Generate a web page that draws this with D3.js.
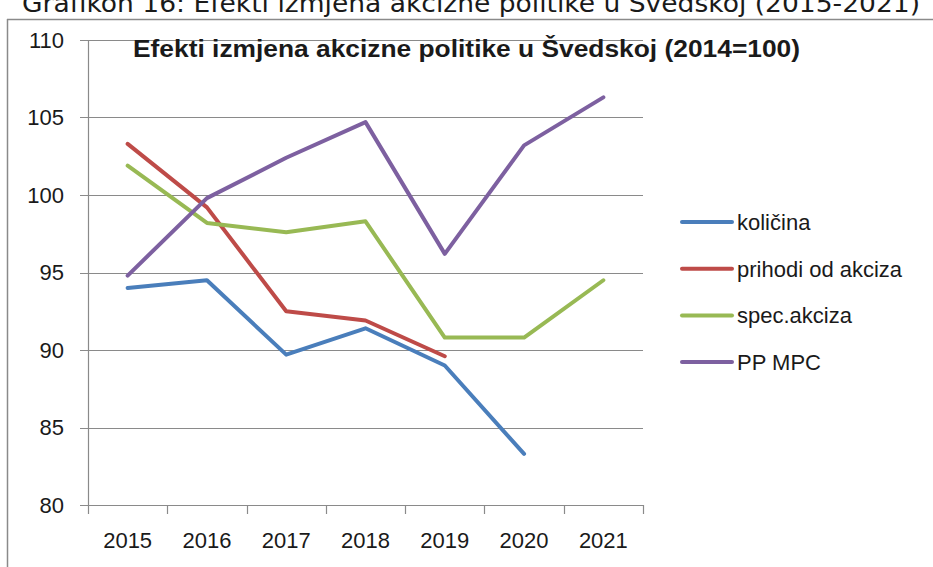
<!DOCTYPE html>
<html lang="hr">
    <head>
        <meta charset="UTF-8" />
        <title>Efekti izmjena akcizne politike u Švedskoj</title>
        <style>
            body {
                margin: 0;
                background: #fff;
            }
            text {
                font-family: 'Liberation Sans', Arial, sans-serif;
                fill: #1a1a1a;
            }
            .grid line {
                stroke: #8a8a8a;
                stroke-width: 1.2px;
            }
            .series {
                fill: none;
                stroke-width: 4px;
                stroke-linejoin: round;
                stroke-linecap: round;
            }
        </style>
    </head>
    <body>
        <svg width="933" height="567"></svg>
        <script src="https://d3js.org/d3.v7.min.js"></script>
        <script>
            const years = ['2015', '2016', '2017', '2018', '2019', '2020', '2021'];
            const yTicks = [80, 85, 90, 95, 100, 105, 110];

            const kolicina = [94.0, 94.5, 89.7, 91.4, 89.0, 83.3, null];
            const prihodi = [103.3, 99.2, 92.5, 91.9, 89.6, null, null];
            const specAkciza = [101.9, 98.2, 97.6, 98.3, 90.8, 90.8, 94.5];
            const ppMpc = [94.8, 99.8, 102.4, 104.7, 96.2, 103.2, 106.3];

            const seriesNames = ['količina', 'prihodi od akciza', 'spec.akciza', 'PP MPC'];
            const seriesColors = ['#4a7ebb', '#be4b48', '#98b954', '#7d60a0'];

            const svg = d3.select('svg');

            const x = d3.scaleBand().domain(years).range([88, 643]);
            const y = d3.scaleLinear().domain([80, 110]).range([505, 40]);

            // caption above the chart frame (cut off at top in the source)
            svg.append('text')
                .attr('x', 22)
                .attr('y', 12)
                .attr('textLength', 898)
                .attr('lengthAdjust', 'spacingAndGlyphs')
                .style('font-family', "'DejaVu Sans', Verdana, sans-serif")
                .style('font-size', '24px')
                .text('Grafikon 16: Efekti izmjena akcizne politike u Švedskoj (2015-2021)');

            // frame
            svg.append('line').attr('x1', 7).attr('x2', 933).attr('y1', 19.5).attr('y2', 19.5).attr('stroke', '#8a8a8a').attr('stroke-width', 1.5);
            svg.append('line').attr('x1', 7.5).attr('x2', 7.5).attr('y1', 19).attr('y2', 567).attr('stroke', '#8a8a8a').attr('stroke-width', 1.5);

            // horizontal gridlines + y axis
            svg.append('g')
                .attr('class', 'grid')
                .selectAll('line')
                .data(yTicks)
                .join('line')
                .attr('x1', 80)
                .attr('x2', 643)
                .attr('y1', (d) => Math.round(y(d)) + 0.5)
                .attr('y2', (d) => Math.round(y(d)) + 0.5);

            svg.append('line')
                .attr('x1', 88.5)
                .attr('x2', 88.5)
                .attr('y1', y(110))
                .attr('y2', y(80) + 9)
                .attr('stroke', '#8a8a8a')
                .attr('stroke-width', 1.2);

            svg.append('g')
                .selectAll('text')
                .data(yTicks)
                .join('text')
                .attr('x', 64)
                .attr('y', (d) => y(d))
                .attr('dy', '0.36em')
                .attr('text-anchor', 'end')
                .style('font-size', '22px')
                .text((d) => d);

            // x axis ticks at band boundaries
            const bounds = years.map((d) => x(d)).concat([x.range()[1]]);
            svg.append('g')
                .selectAll('line')
                .data(bounds.slice(1))
                .join('line')
                .attr('x1', (d) => Math.round(d) + 0.5)
                .attr('x2', (d) => Math.round(d) + 0.5)
                .attr('y1', y(80))
                .attr('y2', y(80) + 9)
                .attr('stroke', '#8a8a8a')
                .attr('stroke-width', 1.2);

            svg.append('g')
                .selectAll('text')
                .data(years)
                .join('text')
                .attr('x', (d) => x(d) + x.bandwidth() / 2)
                .attr('y', 548)
                .attr('text-anchor', 'middle')
                .style('font-size', '22px')
                .text((d) => d);

            // series lines
            const allSeries = [kolicina, prihodi, specAkciza, ppMpc];
            const line = d3
                .line()
                .defined((d) => d != null)
                .x((d, i) => x(years[i]) + x.bandwidth() / 2)
                .y((d) => y(d));

            svg.append('g')
                .selectAll('path')
                .data(allSeries)
                .join('path')
                .attr('class', 'series')
                .attr('stroke', (d, i) => seriesColors[i])
                .attr('d', line);

            // title
            svg.append('text')
                .attr('x', 133)
                .attr('y', 57)
                .attr('textLength', 667)
                .attr('lengthAdjust', 'spacingAndGlyphs')
                .style('font-size', '23px')
                .style('font-weight', 'bold')
                .text('Efekti izmjena akcizne politike u Švedskoj (2014=100)');

            // legend
            const legend = svg
                .append('g')
                .selectAll('g')
                .data(seriesNames)
                .join('g')
                .attr('transform', (d, i) => `translate(682,${222 + i * 46.7})`);

            legend.append('line')
                .attr('x1', 0)
                .attr('x2', 50)
                .attr('stroke', (d, i) => seriesColors[i])
                .attr('stroke-width', 4)
                .attr('stroke-linecap', 'round');

            legend.append('text')
                .attr('x', 55)
                .attr('dy', '0.36em')
                .style('font-size', '22px')
                .text((d) => d);
        </script>
    </body>
</html>
